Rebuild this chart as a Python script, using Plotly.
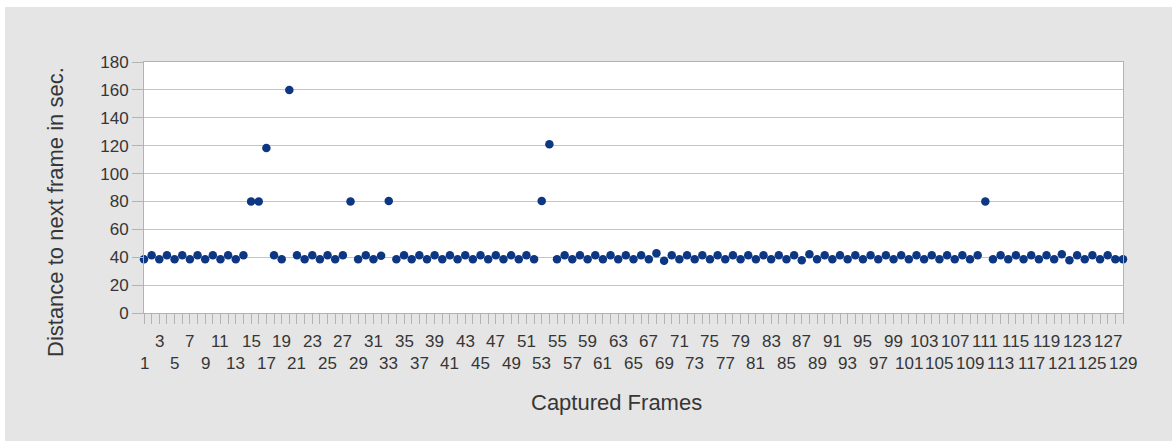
import plotly.graph_objects as go

# ---- data ----
frames = list(range(1, 130))
distance_sec = [
    38.6, 41.4, 38.6, 41.4, 38.6, 41.4, 38.6, 41.4, 38.6, 41.4,
    38.6, 41.4, 38.6, 41.4, 80.0, 80.0, 118.3, 41.4, 38.6, 160.0,
    41.4, 38.6, 41.4, 38.6, 41.4, 38.6, 41.4, 80.0, 38.6, 41.4,
    38.6, 41.0, 80.3, 38.6, 41.4, 38.6, 41.4, 38.6, 41.4, 38.6,
    41.4, 38.6, 41.4, 38.6, 41.4, 38.6, 41.4, 38.6, 41.4, 38.6,
    41.4, 38.6, 80.3, 121.0, 38.6, 41.4, 38.6, 41.4, 38.6, 41.4,
    38.6, 41.4, 38.6, 41.4, 38.6, 41.4, 38.6, 42.8, 37.4, 41.4,
    38.6, 41.4, 38.6, 41.4, 38.6, 41.4, 38.6, 41.4, 38.6, 41.4,
    38.6, 41.4, 38.6, 41.4, 38.6, 41.4, 37.8, 42.2, 38.6, 41.4,
    38.6, 41.4, 38.6, 41.4, 38.6, 41.4, 38.6, 41.4, 38.6, 41.4,
    38.6, 41.4, 38.6, 41.4, 38.6, 41.4, 38.6, 41.4, 38.6, 41.4,
    80.0, 38.6, 41.4, 38.6, 41.4, 38.6, 41.4, 38.6, 41.4, 38.6,
    42.1, 37.9, 41.4, 38.6, 41.4, 38.6, 41.4, 38.6, 38.6,
]
label_frames = frames[::2]          # 1, 3, 5, ... 129
y_ticks = [0, 20, 40, 60, 80, 100, 120, 140, 160, 180]
y_title = "Distance to next frame in sec."
x_title = "Captured Frames"

# ---- layout constants ----
W, H = 1172, 441
ML, MR, MT, MB = 144, 49, 62, 128
PW, PH = W - ML - MR, H - MT - MB
FONT = "Liberation Sans, Arial, sans-serif"
TXT = "#363636"
AXIS = "#b3b3b3"
GRID = "#c4c4c4"
BG = "#e5e5e5"

def px_x(px):
    return (px - ML) / PW

def px_y(py):
    return (H - MB - py) / PH

fig = go.Figure()
fig.add_trace(go.Scatter(
    x=frames, y=distance_sec, mode="markers",
    marker=dict(color="#0d3683", size=8.5, line=dict(width=0)),
    cliponaxis=False, showlegend=False, hoverinfo="skip",
))

annotations = []
for k, f in enumerate(label_frames):
    shift = -50 if k % 2 == 0 else -28
    annotations.append(dict(
        x=f, y=0, xref="x", yref="paper", text=str(f), showarrow=False,
        yanchor="middle", xanchor="center", yshift=shift,
        font=dict(family=FONT, size=17, color=TXT),
    ))
annotations.append(dict(
    x=px_x(55), y=px_y(212), xref="paper", yref="paper", text=y_title,
    showarrow=False, textangle=-90, xanchor="center", yanchor="middle",
    font=dict(family=FONT, size=22, color=TXT),
))
annotations.append(dict(
    x=px_x(616), y=px_y(402), xref="paper", yref="paper", text=x_title,
    showarrow=False, xanchor="center", yanchor="middle",
    font=dict(family=FONT, size=22, color=TXT),
))

shapes = [
    dict(type="rect", xref="paper", yref="paper", layer="below",
         x0=px_x(0), x1=px_x(W), y0=px_y(0), y1=px_y(7),
         fillcolor="white", line=dict(width=0)),
    dict(type="rect", xref="paper", yref="paper", layer="below",
         x0=px_x(0), x1=px_x(5), y0=px_y(H), y1=px_y(0),
         fillcolor="white", line=dict(width=0)),
]

fig.update_layout(
    width=W, height=H, autosize=False,
    margin=dict(l=ML, r=MR, t=MT, b=MB, pad=0),
    paper_bgcolor=BG, plot_bgcolor="white",
    annotations=annotations, shapes=shapes,
    xaxis=dict(
        range=[1, 129], tickmode="array", tickvals=frames, showticklabels=False,
        ticks="outside", ticklen=10, tickcolor=AXIS, tickwidth=1,
        showgrid=False, zeroline=False, showline=True, linecolor=AXIS,
        linewidth=1, mirror=True,
    ),
    yaxis=dict(
        range=[0, 180], tickmode="array", tickvals=y_ticks,
        ticks="outside", ticklen=11, tickcolor=AXIS, tickwidth=1,
        showgrid=True, gridcolor=GRID, gridwidth=1, zeroline=False,
        showline=True, linecolor=AXIS, linewidth=1, mirror=True,
        tickfont=dict(family=FONT, size=17, color=TXT),
    ),
)

fig.write_html(
    "out.html",
    config={"displayModeBar": False},
    post_script="document.body.style.margin='0';document.body.style.overflow='hidden';",
)
